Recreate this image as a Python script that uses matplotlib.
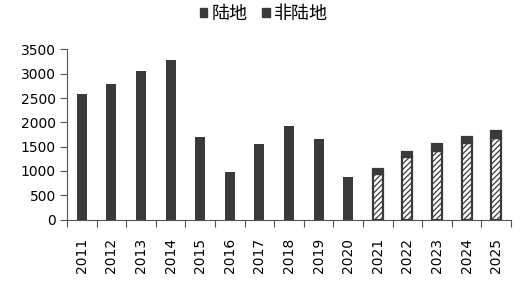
import matplotlib
matplotlib.use("Agg")
import matplotlib.pyplot as plt
from matplotlib.patches import Patch
import numpy as np

years = ["2011","2012","2013","2014","2015","2016","2017","2018","2019","2020",
         "2021","2022","2023","2024","2025"]
onshore = [2590, 2796, 3064, 3284, 1705, 984, 1554, 1931, 1657, 881,
           945, 1285, 1415, 1570, 1675]
offshore = [0, 0, 0, 0, 0, 0, 0, 0, 0, 0,
            85, 115, 130, 125, 137]
yticks = [0, 500, 1000, 1500, 2000, 2500, 3000, 3500]

dark = "#3a3a3a"
plt.rcParams['font.family'] = ['DejaVu Sans']
plt.rcParams['hatch.linewidth'] = 0.9
plt.rcParams['hatch.color'] = dark

fig = plt.figure(figsize=(5.2, 2.87), dpi=100)
ax = fig.add_axes([67/520, 1-219.5/287, 444/520, 170/287])

x = np.arange(len(years))
w = 0.34
n_hist = 10
ax.bar(x[:n_hist], onshore[:n_hist], width=w, color=dark, edgecolor=dark, linewidth=0)
ax.bar(x[n_hist:], onshore[n_hist:], width=w, color="white", edgecolor=dark,
       linewidth=1.6, hatch="//////")
ax.bar(x[n_hist:], offshore[n_hist:], width=w, bottom=onshore[n_hist:], color=dark,
       edgecolor=dark, linewidth=1.6)

ax.set_xlim(-0.5, len(years) - 0.5)
ax.set_ylim(0, 3500)
ax.set_yticks(yticks)
ax.set_yticklabels([str(v) for v in yticks], fontsize=10)
ax.set_xticks(x)
ax.set_xticklabels(years, rotation=90, fontsize=10)
ax.set_xticks(np.arange(-0.5, len(years), 1), minor=True)
ax.tick_params(axis='x', which='major', length=0, pad=13)
ax.tick_params(axis='x', which='minor', length=5, width=0.8, color="#555555")
ax.tick_params(axis='y', length=5, width=0.8, color="#555555", pad=3)
for s in ['top', 'right']:
    ax.spines[s].set_visible(False)
for s in ['left', 'bottom']:
    ax.spines[s].set_color("#555555")
    ax.spines[s].set_linewidth(0.8)

handles = [Patch(facecolor=dark, edgecolor=dark, label="陆地"),
           Patch(facecolor=dark, edgecolor=dark, label="非陆地")]
fig.legend(handles=handles, loc='center', bbox_to_anchor=(264/520, 1-14/287),
           ncol=2, frameon=False, handlelength=0.42, handleheight=0.42,
           handletextpad=0.25, columnspacing=0.8,
           prop={'family': ['Noto Sans CJK SC', 'DejaVu Sans'], 'size': 13})

fig.savefig("out.png", dpi=100)
